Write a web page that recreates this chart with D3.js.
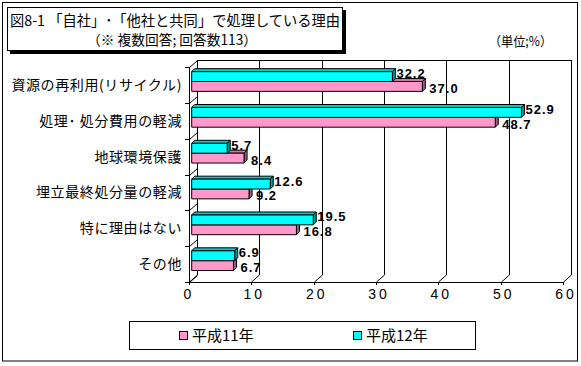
<!DOCTYPE html>
<html><head><meta charset="utf-8">
<script src="https://cdn.jsdelivr.net/npm/d3@7"></script>
<style>
html,body{margin:0;padding:0;background:#fff;}
svg{display:block;}
text{fill:#000;}
</style></head>
<body>
<script>
const categories = ["資源の再利用(リサイクル)","処理･ 処分費用の軽減","地球環境保護","埋立最終処分量の軽減","特に理由はない","その他"];
const seriesNames = ["平成11年","平成12年"];
const valuesH11 = [37.0,48.7,8.4,9.2,16.8,6.7];
const valuesH12 = [32.2,52.9,5.7,12.6,19.5,6.9];
const xTicks = [0,10,20,30,40,50,60];
const titleLine1 = "図8-1 「自社」･「他社と共同」で処理している理由";
const titleLine2 = "（※ 複数回答; 回答数113）";
const unitLabel = "（単位;%）";

const W = 581, H = 366;
const svg = d3.select("body").append("svg").attr("width", W).attr("height", H);
svg.append("rect").attr("width", W).attr("height", H).attr("fill", "#fff");

// outer border
svg.append("rect").attr("x", 2.5).attr("y", 2.5).attr("width", 575).attr("height", 358.5)
  .attr("fill", "none").attr("stroke", "#000").attr("stroke-width", 1);

// title box with shadow
svg.append("rect").attr("x", 10).attr("y", 10).attr("width", 336).attr("height", 44).attr("fill", "#000");
svg.append("rect").attr("x", 7.5).attr("y", 7.5).attr("width", 335).attr("height", 43)
  .attr("fill", "#fff").attr("stroke", "#000").attr("stroke-width", 1);
const cjk = "'Noto Sans CJK JP','Noto Sans CJK SC',sans-serif";
svg.append("text").attr("x", 10).attr("y", 26).attr("font-family", cjk).attr("font-size", 15)
  .attr("textLength", 330).attr("lengthAdjust", "spacingAndGlyphs").text(titleLine1);
svg.append("text").attr("x", 87).attr("y", 45).attr("font-family", cjk).attr("font-size", 14)
  .attr("textLength", 170).attr("lengthAdjust", "spacingAndGlyphs").text(titleLine2);
svg.append("text").attr("x", 489).attr("y", 46).attr("font-family", cjk).attr("font-size", 13)
  .attr("textLength", 63).attr("lengthAdjust", "spacingAndGlyphs").text(unitLabel);

// 3D geometry
const D = {dx: 8, dy: -7};
const x = d3.scaleLinear().domain([0, 60]).range([189, 563]);
const y = d3.scaleBand().domain(categories).range([67, 282]);
const backTop = 67 + D.dy, backBottom = 282 + D.dy;

const g = svg.append("g").attr("stroke", "#000").attr("stroke-width", 1).attr("fill", "none");
g.append("line").attr("x1", x(0) + D.dx).attr("x2", x(60) + D.dx).attr("y1", backTop + .5).attr("y2", backTop + .5);
xTicks.forEach(t => {
  const xb = Math.round(x(t) + D.dx) + .5;
  g.append("line").attr("x1", xb).attr("x2", xb).attr("y1", backTop).attr("y2", backBottom);
  g.append("line").attr("x1", xb).attr("y1", backBottom).attr("x2", Math.round(x(t)) + .5).attr("y2", 282);
  g.append("line").attr("x1", Math.round(x(t)) + .5).attr("x2", Math.round(x(t)) + .5).attr("y1", 282).attr("y2", 285);
});
g.append("line").attr("x1", x(0)).attr("x2", x(60)).attr("y1", 282.5).attr("y2", 282.5);
g.append("line").attr("x1", x(0) + .5).attr("x2", x(0) + .5).attr("y1", 67).attr("y2", 282);
const bounds = categories.map(c => y(c)).concat([y.range()[1]]);
bounds.forEach(b => {
  const yb = Math.round(b) + .5;
  g.append("line").attr("x1", x(0) - 4).attr("x2", x(0)).attr("y1", yb).attr("y2", yb);
  g.append("line").attr("x1", x(0) + .5).attr("y1", yb).attr("x2", x(0) + D.dx + .5).attr("y2", yb + D.dy);
});

// x tick labels
svg.append("g").selectAll("text").data(xTicks).join("text")
  .attr("x", d => x(d) + (d === 0 ? 0 : 3)).attr("y", 299).attr("text-anchor", "middle")
  .attr("font-family", "'Liberation Sans',Arial,sans-serif").attr("font-size", 14)
  .attr("letter-spacing", 3).text(d => d);

// category labels
svg.append("g").selectAll("text").data(categories).join("text")
  .attr("x", 182).attr("y", d => y(d) + y.bandwidth() / 2 + 5).attr("text-anchor", "end")
  .attr("font-family", cjk).attr("font-size", 14).attr("letter-spacing", 0.6).text(d => d);

// bars
const bw = y.bandwidth();
const barH = bw * 0.275, barOff = bw * 0.13;
const bd = {dx: 3, dy: -3};
const xb0 = 2.7;
const series = [
  {name: seriesNames[0], values: valuesH11, idx: 1, front: "#FF99CC", top: "#CC7AA3", side: "#99607F", lx: 7, ly: barH / 2 + 6.5},
  {name: seriesNames[1], values: valuesH12, idx: 0, front: "#00FFFF", top: "#00CCCC", side: "#009999", lx: 4, ly: 6.5}
];
const barsG = svg.append("g").attr("stroke", "#000").attr("stroke-width", 1).attr("stroke-linejoin", "round");
series.forEach(s => {
  categories.forEach((c, i) => {
    const v = s.values[i];
    const x0 = x(0) + xb0, x1 = x(v) + xb0;
    const y0 = y(c) + barOff + s.idx * barH, y1 = y0 + barH;
    barsG.append("path").attr("fill", s.top)
      .attr("d", `M${x0},${y0}L${x0 + bd.dx},${y0 + bd.dy}L${x1 + bd.dx},${y0 + bd.dy}L${x1},${y0}Z`);
    barsG.append("path").attr("fill", s.side)
      .attr("d", `M${x1},${y0}L${x1 + bd.dx},${y0 + bd.dy}L${x1 + bd.dx},${y1 + bd.dy}L${x1},${y1}Z`);
    barsG.append("rect").attr("fill", s.front).attr("x", x0).attr("y", y0).attr("width", x1 - x0).attr("height", barH);
  });
});
series.forEach(s => {
  svg.append("g").selectAll("text").data(categories).join("text")
    .attr("x", (c, i) => x(s.values[i]) + xb0 + s.lx)
    .attr("y", (c, i) => y(c) + barOff + s.idx * barH + s.ly)
    .attr("font-family", "'Liberation Sans',Arial,sans-serif").attr("font-size", 13).attr("font-weight", "bold")
    .attr("letter-spacing", 1)
    .text((c, i) => s.values[i].toFixed(1));
});

// legend
svg.append("rect").attr("x", 129.5).attr("y", 321.5).attr("width", 346).attr("height", 28)
  .attr("fill", "#fff").attr("stroke", "#000");
const legend = [
  {name: seriesNames[0], color: "#FF99CC", x: 179},
  {name: seriesNames[1], color: "#00FFFF", x: 353}
];
legend.forEach(l => {
  svg.append("rect").attr("x", l.x + .5).attr("y", 331.5).attr("width", 8).attr("height", 8)
    .attr("fill", l.color).attr("stroke", "#000");
  svg.append("text").attr("x", l.x + 13).attr("y", 341).attr("font-family", cjk).attr("font-size", 15)
    .text(l.name);
});
</script>
</body></html>
